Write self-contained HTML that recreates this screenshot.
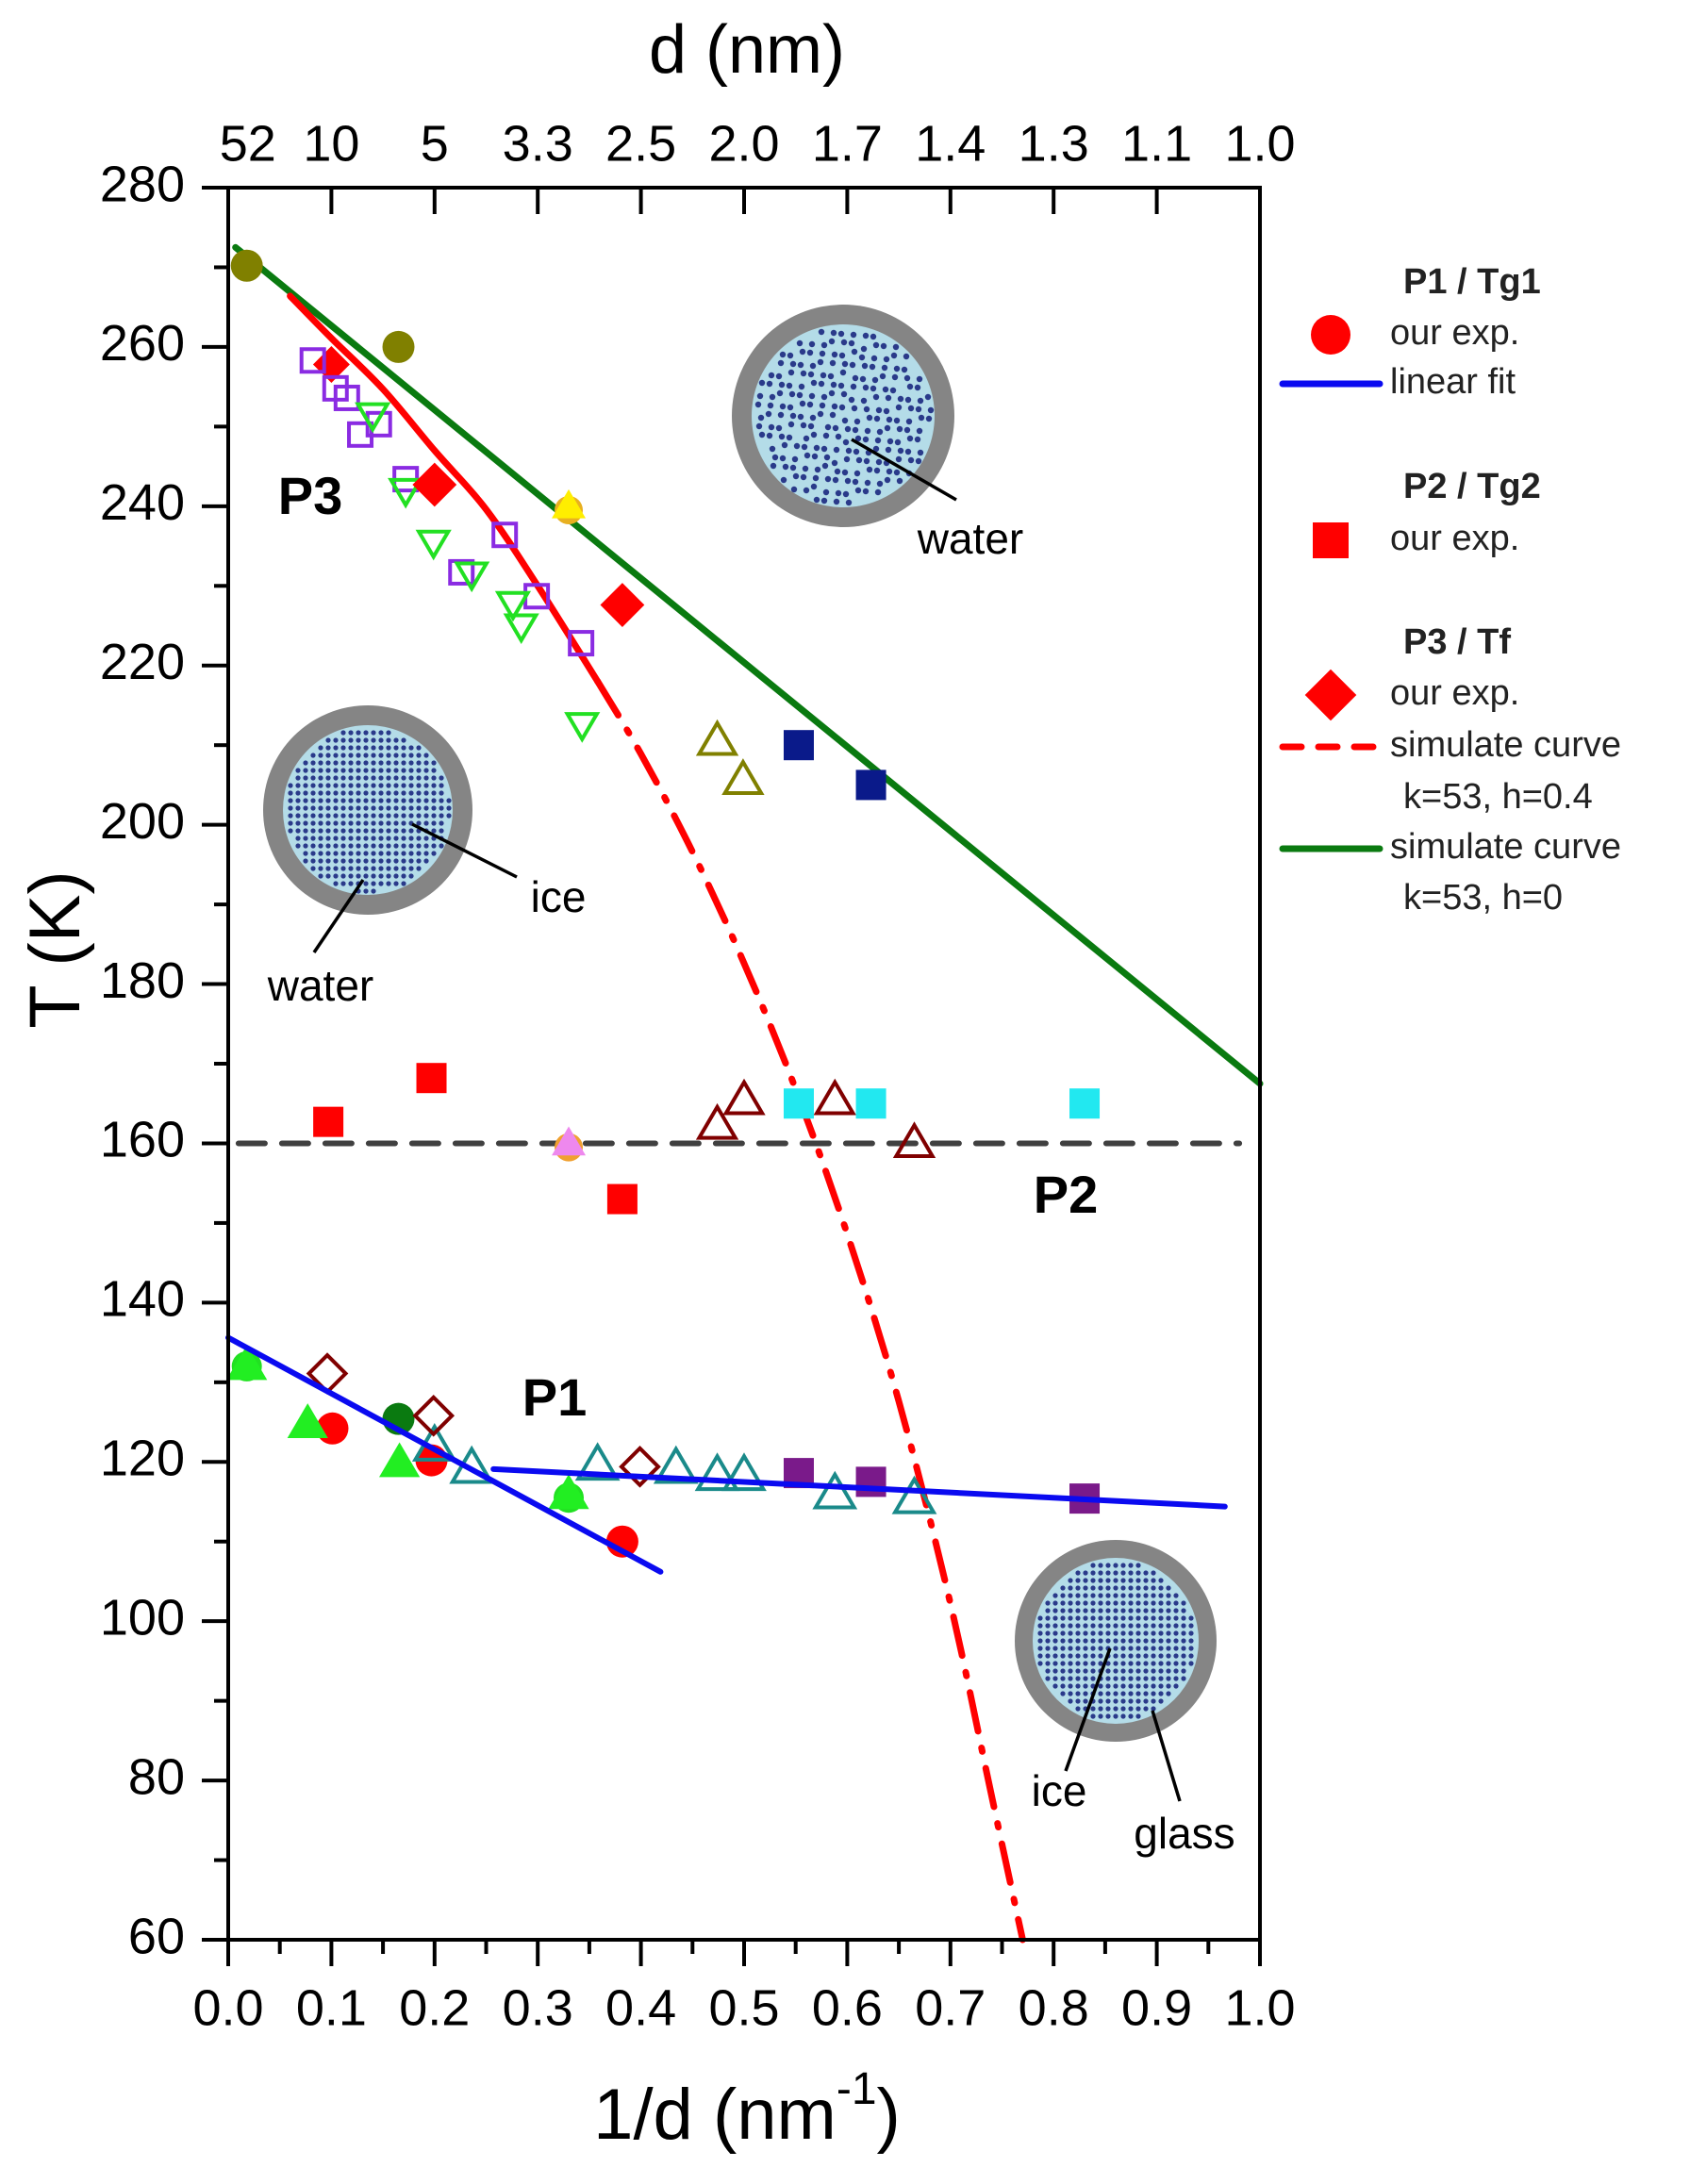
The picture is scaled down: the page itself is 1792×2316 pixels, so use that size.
<!DOCTYPE html>
<html><head><meta charset="utf-8">
<style>
html,body{margin:0;padding:0;background:#fff;}
svg{display:block;font-family:"Liberation Sans",Arial,sans-serif;}
</style></head>
<body>
<svg id="chart" width="1792" height="2316" viewBox="0 0 1792 2316" xmlns="http://www.w3.org/2000/svg">
<g id="insets"></g>
<g id="plot"></g>
<g id="axes"></g>
<g id="legend"></g>
</svg>
<script>
// ---- data ----
const xTicks = [0.0,0.1,0.2,0.3,0.4,0.5,0.6,0.7,0.8,0.9,1.0];
const yTicks = [60,80,100,120,140,160,180,200,220,240,260,280];
const topLabels = ["52","10","5","3.3","2.5","2.0","1.7","1.4","1.3","1.1","1.0"];
const topPos = [0.019,0.1,0.2,0.3,0.4,0.5,0.6,0.7,0.8,0.9,1.0];

const oliveCircX = [0.018,0.165];           const oliveCircY = [270.2,260];
const purpleSqX = [0.082,0.104,0.115,0.128,0.146,0.172,0.226,0.268,0.299,0.342];
const purpleSqY = [258.3,254.8,253.6,249,250.3,243.4,231.7,236.4,228.7,222.8];
const greenDownX = [0.14,0.172,0.199,0.236,0.276,0.284,0.343];
const greenDownY = [251.5,242,235.5,231.5,227.8,225,212.6];
const redDiaX = [0.1,0.2,0.382];            const redDiaY = [257.8,242.7,227.6];
const oliveTriX = [0.474,0.499];            const oliveTriY = [210.5,205.6];
const navySqX = [0.553,0.623];              const navySqY = [210,205];
const redSqX = [0.097,0.197,0.382];         const redSqY = [162.7,168.2,153];
const darkRedTriX = [0.474,0.5,0.588,0.665];const darkRedTriY = [162.3,165.4,165.4,160];
const cyanSqX = [0.553,0.623,0.83];         const cyanSqY = [165,165,165];
const greenCircX = [0.018,0.33];            const greenCircY = [132,115.5];
const greenTriX = [0.018,0.077,0.166,0.33]; const greenTriY = [132.1,124.8,119.9,115.9];
const dkGreenCircX = [0.165];               const dkGreenCircY = [125.4];
const redCircX = [0.101,0.197,0.382];       const redCircY = [124.2,120.2,110];
const tealTriX = [0.2,0.236,0.358,0.434,0.474,0.5,0.588,0.665];
const tealTriY = [122,119.2,119.6,119.2,118.3,118.3,116,115.4];
const dkRedDiaX = [0.096,0.199,0.399];      const dkRedDiaY = [131.1,125.8,119.4];
const purpleFillX = [0.553,0.623,0.83];     const purpleFillY = [118.6,117.5,115.4];
const yellowX = [0.33]; const yellowY = [240];
const pinkX = [0.33];   const pinkY = [160];

const fit1X = [0.0,0.419];   const fit1Y = [135.6,106.2];
const fit2X = [0.257,0.966]; const fit2Y = [119.1,114.4];
const greenLineX = [0.007,1.0]; const greenLineY = [272.5,167.5];
const refLineX = [0.01,0.98];   const refLineY = [160,160];
const redCurveX = [0.06,0.1,0.15,0.2,0.25,0.3,0.358,0.4,0.45,0.5,0.55,0.6,0.65,0.7,0.74,0.77];
const redCurveY = [266.4,261.1,254.7,247,239.6,230,218,208.9,196.6,182.6,166.8,148.6,127.6,102.2,78,60];

// ---- scales ----
const X0=242, X1=1336, Y0=2057, Y1=199;
const sx = v => X0 + (v-0)/(1-0)*(X1-X0);
const sy = v => Y0 - (v-60)/(280-60)*(Y0-Y1);
const NS="http://www.w3.org/2000/svg";
function mk(tag, attrs, parent){const e=document.createElementNS(NS,tag);for(const k in attrs)e.setAttribute(k,attrs[k]);parent.appendChild(e);return e;}
const plot=document.getElementById('plot'), axes=document.getElementById('axes'), legend=document.getElementById('legend'), insets=document.getElementById('insets');

// ---- insets ----
function inset(cx,cy,R,r,dense,name){
  const g=mk('g',{},insets);
  
  
  mk('circle',{cx:cx,cy:cy,r:R,fill:'#858585'},g);
  mk('circle',{cx:cx,cy:cy,r:r,fill:'#b4dce8'},g);
  const step=dense?8:11;
  for(let yy=-r;yy<=r;yy+=step){for(let xx=-r;xx<=r;xx+=step){
    const jx=dense?0:((xx*7+yy*13)%5), jy=dense?0:((xx*11+yy*3)%5);
    if((xx+jx)*(xx+jx)+(yy+jy)*(yy+jy)<(r-3)*(r-3)) mk('circle',{cx:cx+xx+jx,cy:cy+yy+jy,r:dense?2.6:3.2,fill:'#2a3a8a'},g);
  }}
}
inset(894,441,118,97,false,'water-inset');
inset(390,859,111,90,true,'ice-water-inset');
inset(1183,1740,107,88,true,'ice-glass-inset');
function lead(x1,y1,x2,y2,name){const l=mk('line',{x1:x1,y1:y1,x2:x2,y2:y2,stroke:'#000','stroke-width':3.5},insets);}
lead(903,466,1014,530,'water-leader');
lead(437,874,548,930,'ice-leader');
lead(385,933,333,1010,'water-leader-left');
lead(1177,1748,1130,1878,'ice-leader-bottom');
lead(1222,1814,1251,1910,'glass-leader');
function label(x,y,t,size,weight,name,anchor){const e=mk('text',{x:x,y:y,'font-size':size,'font-weight':weight||'normal','text-anchor':anchor||'middle','dominant-baseline':'middle',fill:'#000'},plot);e.textContent=t;return e;}

// ---- lines ----
function pathD(xs,ys,smooth){
  const P=xs.map((v,i)=>[sx(v),sy(ys[i])]);
  if(!smooth||P.length<3) return P.map((p,i)=>(i?'L':'M')+p[0].toFixed(1)+','+p[1].toFixed(1)).join(' ');
  let d='M'+P[0][0].toFixed(1)+','+P[0][1].toFixed(1);
  for(let i=0;i<P.length-1;i++){
    const p0=P[Math.max(0,i-1)],p1=P[i],p2=P[i+1],p3=P[Math.min(P.length-1,i+2)];
    const c1=[p1[0]+(p2[0]-p0[0])/6,p1[1]+(p2[1]-p0[1])/6];
    const c2=[p2[0]-(p3[0]-p1[0])/6,p2[1]-(p3[1]-p1[1])/6];
    d+=` C${c1[0].toFixed(1)},${c1[1].toFixed(1)} ${c2[0].toFixed(1)},${c2[1].toFixed(1)} ${p2[0].toFixed(1)},${p2[1].toFixed(1)}`;
  }
  return d;
}
function poly(xs,ys,stroke,w,dash,name,smooth){
  const p=mk('path',{d:pathD(xs,ys,smooth),fill:'none',stroke:stroke,'stroke-width':w,'stroke-linecap':'round'},plot);
  if(dash)p.setAttribute('stroke-dasharray',dash);
  
  
}
poly(refLineX,refLineY,'#404040',6,'28,18','reference-line-160k');
poly(greenLineX,greenLineY,'#0a7a10',7,null,'green-simulate-curve');
const splitI=6;
poly(redCurveX.slice(0,splitI+1),redCurveY.slice(0,splitI+1),'#ff0000',7,null,'red-simulate-curve-solid',true);
poly(redCurveX.slice(splitI),redCurveY.slice(splitI),'#ff0000',7,'42,18,4,18','red-simulate-curve-dashed',true);

// ---- markers ----
function marker(shape,x,y,fill,stroke,size,name){
  let e;const s=size;
  if(shape==='circle') e=mk('circle',{cx:x,cy:y,r:s},plot);
  else if(shape==='square') e=mk('rect',{x:x-s,y:y-s,width:2*s,height:2*s},plot);
  else if(shape==='diamond') e=mk('polygon',{points:`${x},${y-s*1.3} ${x+s*1.3},${y} ${x},${y+s*1.3} ${x-s*1.3},${y}`},plot);
  else if(shape==='up') e=mk('polygon',{points:`${x},${y-s*1.2} ${x+s*1.2},${y+s*0.85} ${x-s*1.2},${y+s*0.85}`},plot);
  else if(shape==='down') e=mk('polygon',{points:`${x},${y+s*1.2} ${x+s*1.2},${y-s*0.85} ${x-s*1.2},${y-s*0.85}`},plot);
  e.setAttribute('fill',fill);
  if(stroke){e.setAttribute('stroke',stroke);e.setAttribute('stroke-width',4);}
  
  
}
function series(xs,ys,shape,fill,stroke,size,name){xs.forEach((v,i)=>marker(shape,sx(v),sy(ys[i]),fill,stroke,size,name));}
series(oliveCircX,oliveCircY,'circle','#808000',null,17,'olive-circle-point');
series(redDiaX.slice(0,1),redDiaY.slice(0,1),'diamond','#ff0000',null,15,'red-diamond-point');
series(purpleSqX,purpleSqY,'square','none','#8a2be2',12,'purple-open-square-point');
series(greenDownX,greenDownY,'down','none','#22e022',13,'green-open-triangle-point');
series(redDiaX.slice(1),redDiaY.slice(1),'diamond','#ff0000',null,18,'red-diamond-point');
series([0.33],[239.5],'circle','#e8b020',null,15,'orange-circle-point');
series(yellowX,yellowY,'up','#ffee00',null,15,'yellow-triangle-point');
series(oliveTriX,oliveTriY,'up','none','#808000',16,'olive-open-triangle-point');
series(navySqX,navySqY,'square','#0a1a8a',null,16,'navy-square-point');
series(redSqX,redSqY,'square','#ff0000',null,16,'red-square-point');
series([0.33],[159.5],'circle','#f0a030',null,15,'orange-circle-point');
series(pinkX,pinkY,'up','#ee88ee',null,15,'pink-triangle-point');
series(darkRedTriX,darkRedTriY,'up','none','#800000',16,'dark-red-open-triangle-point');
series(cyanSqX,cyanSqY,'square','#22e8f0',null,16,'cyan-square-point');
series(greenCircX,greenCircY,'circle','#22e022',null,16,'green-circle-point');
series(dkGreenCircX,dkGreenCircY,'circle','#0a7a10',null,17,'dark-green-circle-point');
series(redCircX,redCircY,'circle','#ff0000',null,17,'red-circle-point');
series(greenTriX,greenTriY,'up','#22ee22',null,18,'green-triangle-point');
series(tealTriX,tealTriY,'up','none','#1a8a8a',17,'teal-open-triangle-point');
series(dkRedDiaX,dkRedDiaY,'diamond','none','#800000',15,'dark-red-open-diamond-point');
series(purpleFillX,purpleFillY,'square','#7a1a8a',null,16,'purple-square-point');
poly(fit1X,fit1Y,'#0a0af0',6,null,'linear-fit-p1-line');
poly(fit2X,fit2Y,'#0a0af0',6,null,'linear-fit-p1-line-2');

// text labels in plot
label(329,530,'P3',56,'bold','p3-label');
label(1130,1271,'P2',56,'bold','p2-label');
label(588,1486,'P1',56,'bold','p1-label');
label(1029,575,'water',46,'normal','water-label');
label(592,955,'ice',46,'normal','ice-label');
label(340,1049,'water',46,'normal','water-label-left');
label(1123,1903,'ice',46,'normal','ice-label-bottom');
label(1256,1948,'glass',46,'normal','glass-label');

// ---- axes ----
const frame=mk('path',{d:`M${X0},${Y1} L${X0},${Y0} L${X1},${Y0} L${X1},${Y1} Z`,fill:'none',stroke:'#000','stroke-width':4},axes);


function txt(x,y,t,size,anchor,name,weight){const e=mk('text',{x:x,y:y,'font-size':size,'text-anchor':anchor,'dominant-baseline':'middle',fill:'#000','font-weight':weight||'normal'},axes);e.textContent=t;return e;}
xTicks.forEach(v=>{mk('line',{x1:sx(v),y1:Y0,x2:sx(v),y2:Y0+28,stroke:'#000','stroke-width':4},axes);
  txt(sx(v),Y0+76,v.toFixed(1),54,'middle','x-tick-label');});
for(let i=0;i<10;i++){const v=0.05+i*0.1;mk('line',{x1:sx(v),y1:Y0,x2:sx(v),y2:Y0+15,stroke:'#000','stroke-width':4},axes);}
yTicks.forEach(v=>{mk('line',{x1:X0-28,y1:sy(v),x2:X0,y2:sy(v),stroke:'#000','stroke-width':4},axes);
  txt(X0-46,sy(v),String(v),54,'end','y-tick-label');});
for(let v=70;v<280;v+=20){mk('line',{x1:X0-15,y1:sy(v),x2:X0,y2:sy(v),stroke:'#000','stroke-width':4},axes);}
topLabels.forEach((t,i)=>{const x=sx(topPos[i]);
  if(i>0)mk('line',{x1:x,y1:Y1,x2:x,y2:Y1+28,stroke:'#000','stroke-width':4},axes);
  txt(x,156,t,54,'middle','top-tick-label');});
txt(792,58,'d (nm)',72,'middle','top-axis-title');
const xt=mk('text',{x:792,y:2248,'font-size':76,'text-anchor':'middle','dominant-baseline':'middle',fill:'#000'},axes);


xt.innerHTML='1/d (nm<tspan dy="-30" font-size="48">-1</tspan><tspan dy="30">)</tspan>';
const yt=txt(0,0,'T (K)',76,'middle','y-axis-title');
yt.setAttribute('transform','translate(64,1007) rotate(-90)');

// ---- legend ----
function ltxt(x,y,t,bold,name){const e=mk('text',{x:x,y:y,'font-size':38,'font-weight':bold?'bold':'normal','dominant-baseline':'middle',fill:'#222'},legend);e.textContent=t;}
ltxt(1488,301,'P1 / Tg1',true,'legend-title-p1');
marker('circle',1411,355,'#ff0000',null,21,'legend-p1-marker');
ltxt(1474,355,'our exp.',false,'legend-entry-p1');
mk('line',{x1:1360,y1:407,x2:1463,y2:407,stroke:'#0a0af0','stroke-width':7,'stroke-linecap':'round'},legend);
ltxt(1474,407,'linear fit',false,'legend-entry-linear-fit');
ltxt(1488,518,'P2 / Tg2',true,'legend-title-p2');
marker('square',1411,573,'#ff0000',null,19,'legend-p2-marker');
ltxt(1474,573,'our exp.',false,'legend-entry-p2');
ltxt(1488,683,'P3 / Tf',true,'legend-title-p3');
marker('diamond',1411,737,'#ff0000',null,21,'legend-p3-marker');
ltxt(1474,737,'our exp.',false,'legend-entry-p3');
mk('line',{x1:1360,y1:792,x2:1463,y2:792,stroke:'#ff0000','stroke-width':7,'stroke-dasharray':'20,18','stroke-linecap':'round'},legend);
ltxt(1474,792,'simulate curve',false,'legend-entry-red-curve');
ltxt(1488,847,'k=53, h=0.4',false,'legend-entry-red-params');
mk('line',{x1:1360,y1:900,x2:1463,y2:900,stroke:'#0a7a10','stroke-width':7,'stroke-linecap':'round'},legend);
ltxt(1474,900,'simulate curve',false,'legend-entry-green-curve');
ltxt(1488,954,'k=53, h=0',false,'legend-entry-green-params');
</script>
</body></html>
